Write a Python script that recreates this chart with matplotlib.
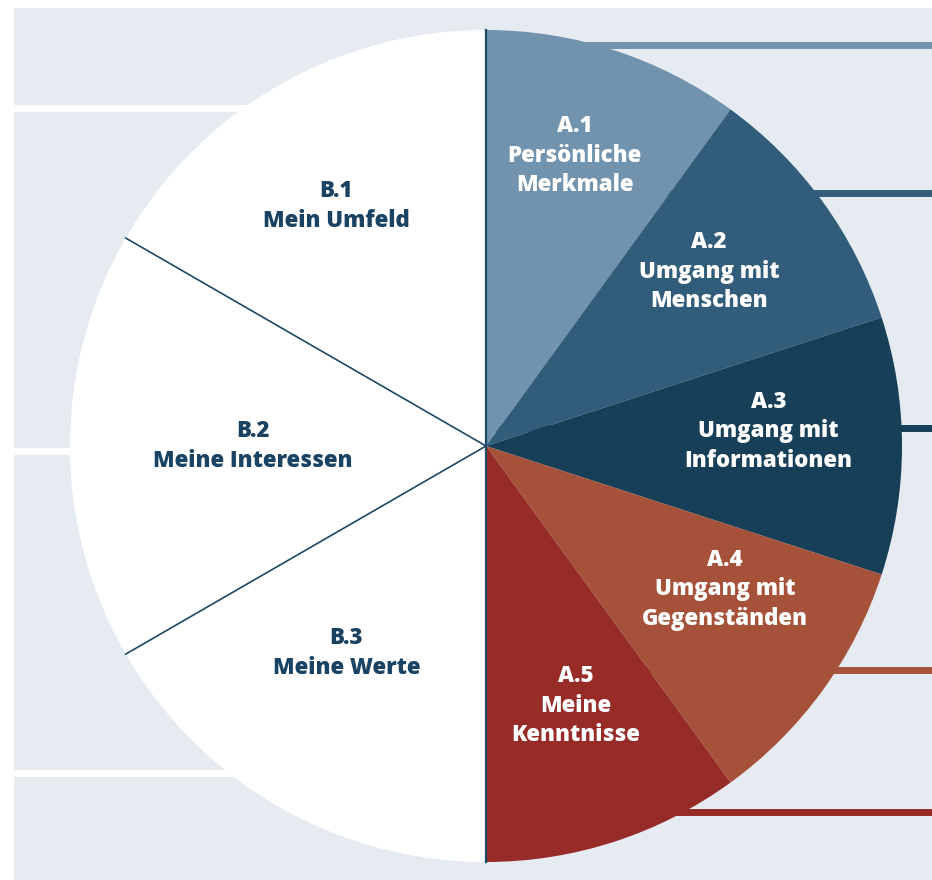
import matplotlib
matplotlib.use("Agg")
import matplotlib.pyplot as plt
from matplotlib.patches import Rectangle
import numpy as np

# ---- data ----
labels = ["A.1\nPersönliche\nMerkmale",
          "A.2\nUmgang mit\nMenschen",
          "A.3\nUmgang mit\nInformationen",
          "A.4\nUmgang mit\nGegenständen",
          "A.5\nMeine\nKenntnisse",
          "B.3\nMeine Werte",
          "B.2\nMeine Interessen",
          "B.1\nMein Umfeld"]
shares = [10, 10, 10, 10, 10, 16.67, 16.67, 16.67]
colors = ["#7193ae", "#325d7a", "#173f58", "#a6523a", "#962b28",
          "#ffffff", "#ffffff", "#ffffff"]
text_colors = ["white"] * 5 + ["#1a4262"] * 3
label_radius = [0.73, 0.68, 0.68, 0.67, 0.66, 0.60, 0.56, 0.68]
label_shift = [1, 2, 3, 5, 1, -4, 0, 2]

# ---- layout ----
W, H = 932, 880
cx, cy, R = 486, H - 446, 416
BG = "#e6ebf2"
NAVY = "#1d4866"

fig = plt.figure(figsize=(W / 100, H / 100), dpi=100)
ax = fig.add_axes([0, 0, 1, 1])
ax.set_xlim(0, W)
ax.set_ylim(0, H)
ax.axis("off")

# panel background
ax.add_patch(Rectangle((14, 0), W - 14, H - 8, facecolor=BG, edgecolor="none", zorder=0))

# left white bands
for yy in [108, 451, 773]:
    ax.plot([14, cx], [H - yy, H - yy], color="white", lw=5, solid_capstyle="butt", zorder=1)

# right coloured lines
for yy, c in zip([45, 193, 428, 670, 812], colors[:5]):
    ax.plot([cx, W], [H - yy, H - yy], color=c, lw=5, solid_capstyle="butt", zorder=1)

wedges, _ = ax.pie(shares, colors=colors, startangle=90, counterclock=False,
                   center=(cx, cy), radius=R, frame=True,
                   wedgeprops=dict(linewidth=0, zorder=2))
ax.set_xlim(0, W)
ax.set_ylim(0, H)
ax.axis("off")

# separator lines: vertical diameter and B-slice boundaries
ax.plot([cx, cx], [cy - R, cy + R], color=NAVY, lw=1.6, zorder=3)
for w in wedges[5:7]:
    th = np.deg2rad(w.theta1)
    ax.plot([cx, cx + R * np.cos(th)], [cy, cy + R * np.sin(th)], color=NAVY, lw=1.2, zorder=3)

# labels
for w, lab, tc, rf, sh in zip(wedges, labels, text_colors, label_radius, label_shift):
    mid = np.deg2rad((w.theta1 + w.theta2) / 2 + sh)
    x = cx + rf * R * np.cos(mid)
    y = cy + rf * R * np.sin(mid)
    ax.text(x, y, lab, ha="center", va="center", color=tc, fontsize=16,
            fontweight="heavy", family=["Open Sans", "DejaVu Sans"], linespacing=1.3,
            multialignment="center", zorder=4)

fig.savefig("out.png", dpi=100, facecolor="white")
